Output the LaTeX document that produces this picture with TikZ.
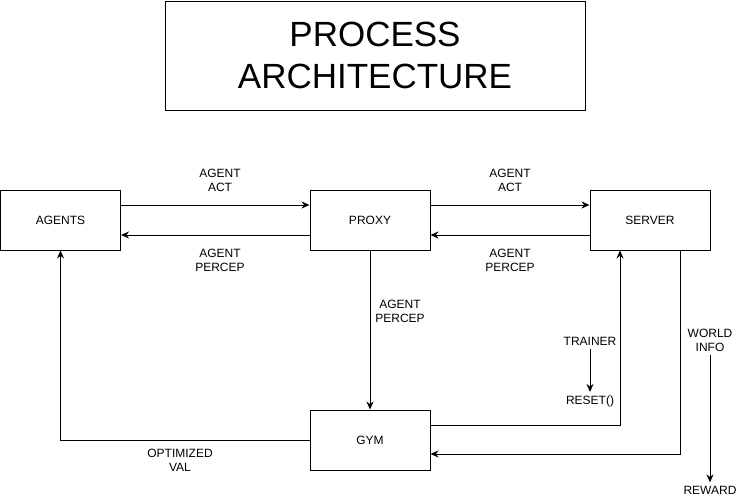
\documentclass[tikz,border=0pt]{standalone}
\usepackage{fontspec}
\setmainfont{Liberation Sans}
\usetikzlibrary{positioning,arrows.meta}

\begin{document}
\begin{tikzpicture}[x=1pt, y=-1pt, line width=1pt,
    box/.style={draw, minimum width=120pt, minimum height=60pt, inner sep=0pt,
      font=\fontsize{12}{14}\selectfont},
    lbl/.style={align=center, inner sep=3pt, font=\fontsize{12}{14}\selectfont},
    >={Stealth[length=8pt, width=7pt]}]
    \useasboundingbox (0,0) rectangle (737,501);

    \node[draw, minimum width=420pt, minimum height=109pt, align=center,
      font=\fontsize{35}{42}\selectfont] (title) at (375,55.5) {PROCESS\\ARCHITECTURE};

    \node[box] (agents) at (60.5,220) {AGENTS};
    \node[box] (proxy) at (370,220) {PROXY};
    \node[box] (server) at (650,220) {SERVER};
    \node[box] (gym) at (370,440) {GYM};

    \draw[->] ([yshift=15pt]agents.east) -- ([yshift=15pt]proxy.west);
    \draw[->] ([yshift=-15pt]proxy.west) -- ([yshift=-15pt]agents.east);
    \node[lbl] (act1) at (220,180) {AGENT\\ACT};
    \node[lbl] (percep1) at (220,260) {AGENT\\PERCEP};

    \draw[->] ([yshift=15pt]proxy.east) -- ([yshift=15pt]server.west);
    \draw[->] ([yshift=-15pt]server.west) -- ([yshift=-15pt]proxy.east);
    \node[lbl] (act2) at (510,180) {AGENT\\ACT};
    \node[lbl] (percep2) at (510,260) {AGENT\\PERCEP};

    \draw[->] (proxy) -- (gym);
    \node[lbl] (percep3) at (400,311) {AGENT\\PERCEP};

    \draw[->] (gym.west) -| (agents.south);
    \node[lbl] (optval) at (180,460) {OPTIMIZED\\VAL};

    \draw[->] ([yshift=15pt]gym.east) -| ([xshift=-30pt]server.south);
    \draw[->] ([xshift=30pt]server.south) |- ([yshift=-14pt]gym.east);

    \node[lbl] (trainer) at (590,341) {TRAINER};
    \node[lbl] (reset) at (590,401) {RESET()};
    \draw[->] (trainer) -- (reset);

    \node[lbl] (world) at (710,340.5) {WORLD\\INFO};
    \node[lbl] (reward) at (710,490) {REWARD};
    \draw[->] (world) -- (reward);
\end{tikzpicture}
\end{document}
